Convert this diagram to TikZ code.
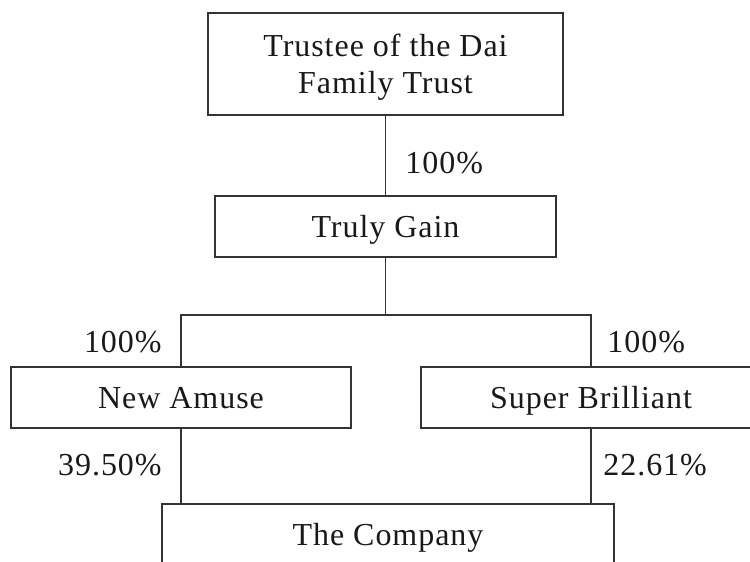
\documentclass[tikz,border=0pt]{standalone}
\usepackage{fontspec}
\setmainfont[LetterSpace=3]{Liberation Serif}
\usetikzlibrary{positioning}

\begin{document}
\begin{tikzpicture}[x=0.5pt,y=-0.5pt]
      \tikzstyle{every node}=[font=\fontsize{16}{18.5}\selectfont,text=black!90]
      \tikzstyle{entity}=[draw=black!80,rectangle,line width=0.6pt,align=center,minimum height=30.5pt]
      \tikzstyle{oneline}=[text height=14.4pt,text depth=3.84pt]
      \tikzstyle{share}=[inner sep=0pt]
      \tikzstyle{link}=[draw=black!80,line width=0.6pt]
      \clip (0,0) rectangle (750,562);

      \node[entity,minimum width=177.5pt,minimum height=51pt] (trust) at (385.5,64) {\rule{0pt}{14pt}Trustee of the Dai\\Family Trust};
      \node[entity,oneline,minimum width=170.5pt] (gain)      at (385.5,226.5) {Truly Gain};
      \node[entity,oneline,minimum width=170pt]   (amuse)     at (181,397.5)   {New Amuse};
      \node[entity,oneline,minimum width=170pt]   (brilliant) at (591,397.5)   {Super Brilliant};
      \node[entity,oneline,minimum width=226pt]   (company)   at (388,534.5)   {The Company};
      \coordinate (split) at (385.5,315);

      \draw[link] (trust) -- (gain);
      \draw[link] (gain) -- (split);
      \draw[link] (amuse) |- (split) -| (brilliant);
      \draw[link] (amuse.south) -- (amuse.south |- company.north);
      \draw[link] (brilliant.south) -- (brilliant.south |- company.north);

      \node[share,anchor=west] (pctgain)      at (405,163) {100\%};
      \node[share,anchor=east] (pctamuse)     at (162,342) {100\%};
      \node[share,anchor=west] (pctbrilliant) at (607,342) {100\%};
      \node[share,anchor=east] (pctnew)       at (162,465) {39.50\%};
      \node[share,anchor=west] (pctsuper)     at (603,465) {22.61\%};
\end{tikzpicture}
\end{document}
